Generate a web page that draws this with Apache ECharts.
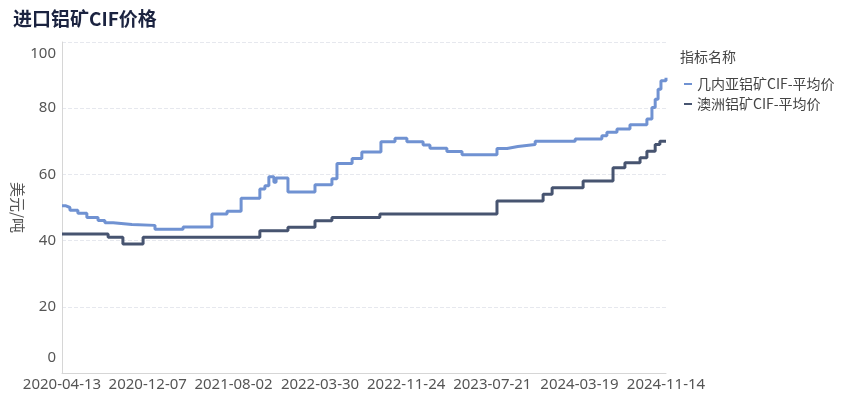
<!DOCTYPE html>
<html>
<head>
<meta charset="utf-8">
<script src="https://cdn.jsdelivr.net/npm/echarts@6/dist/echarts.min.js"></script>
<style>
html,body{margin:0;padding:0;background:#fff;}
#c{width:845px;height:398px;}
</style>
</head>
<body>
<div id="c"></div>
<script>
const seriesNames = ['几内亚铝矿CIF-平均价', '澳洲铝矿CIF-平均价'];
const tickDates = ['2020-04-13','2020-12-07','2021-08-02','2022-03-30','2022-11-24','2023-07-21','2024-03-19','2024-11-14'];
const guineaDates = ['2020-04-13','2020-04-24','2020-05-05','2020-05-27','2020-06-21','2020-07-22','2020-08-10','2020-09-02','2020-10-24','2020-12-27','2021-03-15','2021-06-03','2021-07-15','2021-08-23','2021-10-14','2021-10-28','2021-11-08','2021-11-22','2021-11-28','2021-12-31','2022-03-16','2022-05-02','2022-05-16','2022-06-27','2022-07-24','2022-09-15','2022-10-24','2022-11-26','2023-01-10','2023-01-29','2023-03-17','2023-04-28','2023-08-03','2023-08-31','2023-09-30','2023-11-17','2024-03-07','2024-05-20','2024-06-03','2024-07-01','2024-08-06','2024-09-22','2024-10-06','2024-10-15','2024-10-23','2024-10-31','2024-11-14'];
const guineaValues = [50.5,50.0,49.2,48.3,47.0,46.1,45.4,44.9,44.6,43.4,44.1,48.0,48.9,52.8,55.6,56.6,59.3,57.6,58.9,54.7,56.9,58.7,63.3,64.8,66.8,69.9,70.9,69.9,68.9,67.9,66.9,65.9,67.8,68.4,69.0,70.0,70.7,71.7,72.7,73.7,75.0,76.7,80.2,82.7,85.7,88.3,89.2];
const ausDates = ['2020-04-13','2020-08-19','2020-09-29','2020-11-24','2021-10-14','2021-12-31','2022-03-16','2022-05-02','2022-09-12','2023-08-03','2023-12-09','2024-01-03','2024-03-29','2024-06-20','2024-07-23','2024-09-03','2024-09-22','2024-10-15','2024-10-28','2024-11-14'];
const ausValues = [42,41,39,41,43,44,46,47,48,52,54,56,58,62,63.5,65,67,69,70,70];

const ts = d => Date.parse(d + 'T00:00:00Z');
const fmt = v => {
  const d = new Date(v);
  const p = n => String(n).padStart(2, '0');
  return d.getUTCFullYear() + '-' + p(d.getUTCMonth() + 1) + '-' + p(d.getUTCDate());
};
const pair = (d, v) => d.map((x, i) => [ts(x), v[i]]);
const labelFont = 'Noto Sans';
const chart = echarts.init(document.getElementById('c'));
chart.setOption({
  animation: false,
  title: {
    text: '进口铝矿CIF价格', left: 8, top: 4,
    textStyle: {fontSize: 19, fontWeight: 'bold', color: '#1b2340', fontFamily: 'Noto Sans CJK SC'}
  },
  legend: {
    orient: 'vertical', left: 679, top: 72,
    data: seriesNames,
    icon: 'rect', itemWidth: 8, itemHeight: 2, itemGap: 6,
    textStyle: {fontSize: 14, color: '#444', fontFamily: 'Noto Sans CJK SC'}
  },
  graphic: [{
    type: 'text', left: 680, top: 50,
    style: {text: '指标名称', fontSize: 14, fill: '#444', fontFamily: 'Noto Sans CJK SC'}
  }],
  grid: {left: 62, right: 179, top: 42, bottom: 25, containLabel: false, outerBoundsMode: 'none'},
  xAxis: {
    type: 'value',
    min: ts(tickDates[0]), max: ts(tickDates[tickDates.length - 1]),
    axisLine: {show: true, lineStyle: {color: '#d6d6d6'}},
    axisTick: {show: false},
    splitLine: {show: false},
    axisLabel: {
      customValues: tickDates.map(ts),
      formatter: fmt,
      color: '#555', fontSize: 15, margin: 4, fontFamily: labelFont,
      showMinLabel: true, showMaxLabel: true
    }
  },
  yAxis: {
    type: 'value', min: 0, max: 100, interval: 20,
    name: '美元/吨', nameLocation: 'middle', nameRotate: -90, nameGap: 37,
    nameMoveOverlap: false,
    nameTextStyle: {fontSize: 15, color: '#555', fontFamily: 'Noto Sans CJK SC'},
    axisLine: {show: true, lineStyle: {color: '#d6d6d6'}},
    axisTick: {show: false},
    splitLine: {lineStyle: {color: '#e6e8ee', type: 'dashed'}},
    axisLabel: {
      color: '#555', fontSize: 15, margin: 6, fontFamily: labelFont,
      formatter: v => v === 0 ? '{lo|0}' : v === 100 ? '{hi|100}' : String(v),
      rich: {
        lo: {fontSize: 15, color: '#555', fontFamily: labelFont, padding: [0, 0, 30, 0]},
        hi: {fontSize: 15, color: '#555', fontFamily: labelFont, padding: [24, 0, 0, 0]}
      }
    }
  },
  series: [
    {
      name: seriesNames[0], type: 'line', step: 'end', showSymbol: false,
      data: pair(guineaDates, guineaValues),
      lineStyle: {width: 3, color: '#7092d2'}, itemStyle: {color: '#7092d2'}
    },
    {
      name: seriesNames[1], type: 'line', step: 'end', showSymbol: false,
      data: pair(ausDates, ausValues),
      lineStyle: {width: 3, color: '#475470'}, itemStyle: {color: '#475470'}
    }
  ]
});
</script>
</body>
</html>
